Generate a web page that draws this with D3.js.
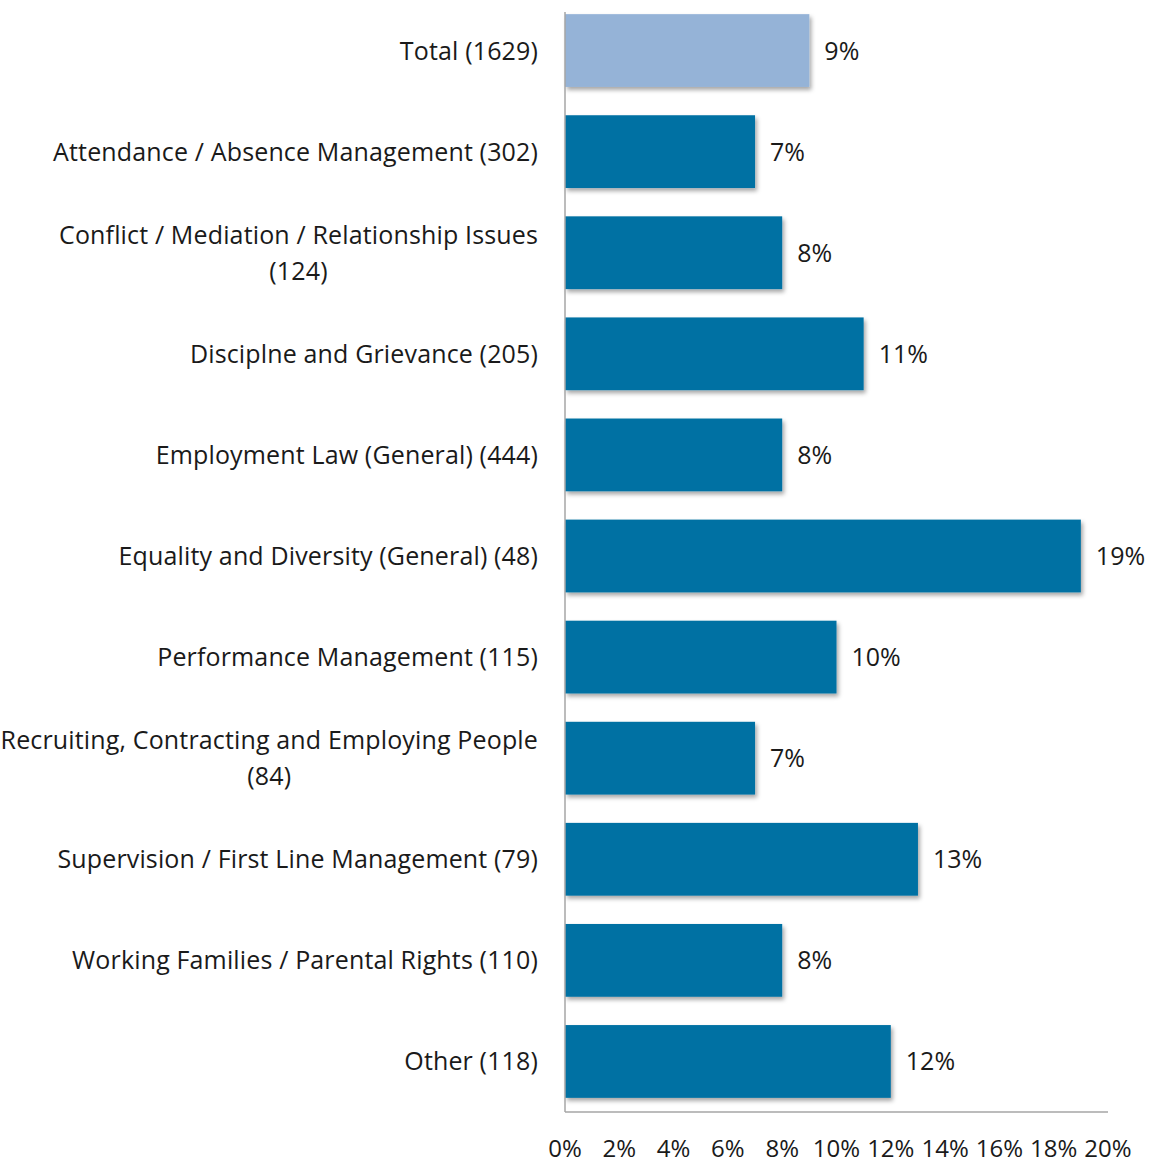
<!DOCTYPE html>
<html><head><meta charset="utf-8">
<script src="https://cdn.jsdelivr.net/npm/d3@7"></script>
<style>body{margin:0;background:#fff;} text{font-family:"Open Sans",sans-serif;fill:#1a1a1a;}</style>
</head><body>
<svg id="c" width="1157" height="1164"></svg>
<script>
const categories = [
  ["Total (1629)"],
  ["Attendance / Absence Management (302)"],
  ["Conflict / Mediation / Relationship Issues", "(124)"],
  ["Disciplne and Grievance (205)"],
  ["Employment Law (General) (444)"],
  ["Equality and Diversity (General) (48)"],
  ["Performance Management (115)"],
  ["Recruiting, Contracting and Employing People", "(84)"],
  ["Supervision / First Line Management (79)"],
  ["Working Families / Parental Rights (110)"],
  ["Other (118)"]
];
const values = [9, 7, 8, 11, 8, 19, 10, 7, 13, 8, 12];
const ticks = [0, 2, 4, 6, 8, 10, 12, 14, 16, 18, 20];

(function(){
const svg = d3.select("#c");
const pLeft = 565, pRight = 1108, pTop = 0, pBottom = 1112;
const fs = 25;

const defs = svg.append("defs");
const f = defs.append("filter").attr("id","sh").attr("x","-10%").attr("y","-10%").attr("width","130%").attr("height","140%");
f.append("feDropShadow").attr("dx",2).attr("dy",3).attr("stdDeviation",2).attr("flood-color","#000").attr("flood-opacity",0.35);

const x = d3.scaleLinear().domain([0, 20]).range([pLeft, pRight]);
const y = d3.scaleBand().domain(d3.range(categories.length)).range([pTop, pBottom]).paddingInner(0.28).paddingOuter(0.14);

svg.selectAll("rect.bar").data(values).join("rect")
  .attr("class","bar")
  .attr("x", x(0)).attr("y", (d,i)=>y(i))
  .attr("width", d=>x(d)-x(0)).attr("height", y.bandwidth())
  .attr("fill", (d,i)=> i===0 ? "#95B3D7" : "#0071A3")
  .attr("filter","url(#sh)");

svg.append("line").attr("x1",x(0)).attr("x2",x(0)).attr("y1",12).attr("y2",pBottom).attr("stroke","#a6a6a6").attr("stroke-width",1.5);
svg.append("line").attr("x1",x(0)).attr("x2",pRight).attr("y1",pBottom).attr("y2",pBottom).attr("stroke","#a6a6a6").attr("stroke-width",1.5);

svg.selectAll("text.tick").data(ticks).join("text")
  .attr("class","tick").attr("x", d=>x(d)).attr("y", 1157)
  .attr("text-anchor","middle").attr("font-size", 24)
  .text(d=>d+"%");

svg.selectAll("text.val").data(values).join("text")
  .attr("class","val").attr("x", d=>x(d)+15).attr("y",(d,i)=>y(i)+y.bandwidth()/2+9)
  .attr("font-size", fs).text(d=>d+"%");

categories.forEach((lines,i)=>{
  const g = svg.append("text").attr("font-size", fs).attr("letter-spacing", 0.15).attr("text-anchor","middle");
  const cy = y(i)+y.bandwidth()/2;
  const lh = 36;
  const y0 = cy - (lines.length-1)*lh/2 + 9;
  const spans = lines.map((t,k)=> g.append("tspan").attr("y", y0+k*lh).text(t));
  const w = d3.max(spans, s=>s.node().getComputedTextLength());
  const cx = 538 - w/2;
  spans.forEach(s=>s.attr("x", cx));
});
})();
</script>
</body></html>
